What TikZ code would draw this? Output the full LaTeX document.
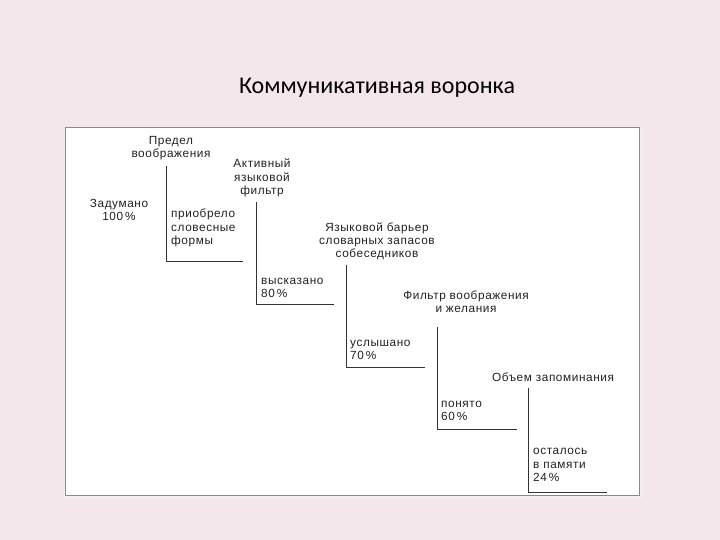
\documentclass[tikz,border=0pt]{standalone}
\usepackage{fontspec}
\setmainfont{Liberation Sans}
\newfontfamily\lblfont[LetterSpace=5]{Liberation Sans}
\newfontfamily\titlefont{Carlito}
\definecolor{bg}{HTML}{F3E7EB}
\definecolor{txt}{HTML}{222222}
\definecolor{ln}{HTML}{333333}
\definecolor{frame}{HTML}{8A8A8A}
\begin{document}
\begin{tikzpicture}[x=1pt,y=-1pt,
  lbl/.style={font=\lblfont\fontsize{11.8}{13.2}\selectfont, text=txt, inner sep=0pt, align=center},
  lbll/.style={lbl, align=left, anchor=west},
  bracket/.style={draw=ln, line width=1pt}]
\fill[bg] (0,0) rectangle (720,540);
\useasboundingbox (0,0) rectangle (720,540);
\fill[black!6] (64,129) rectangle (642,498);
\draw[frame, fill=white, line width=0.8pt] (65,127) rectangle (639,495);
\node[font=\titlefont\fontsize{24}{28}\selectfont, text=black, inner sep=0pt] (title) at (377,88) {Коммуникативная воронка};

\node[lbl] (t1) at (171,148) {Предел\\воображения};
\node[lbl] (zad) at (119,210) {Задумано\\100\,\%};
\node[lbll] (pri) at (171,228) {приобрело\\словесные\\формы};
\coordinate (a1) at (166,166); \coordinate (b1) at (166,261); \coordinate (c1) at (243,261);
\draw[bracket] (a1) -- (b1) -- (c1);

\node[lbl] (t2) at (262,178) {Активный\\языковой\\фильтр};
\node[lbll] (vys) at (261,288) {высказано\\80\,\%};
\coordinate (a2) at (256,202); \coordinate (b2) at (256,304); \coordinate (c2) at (334,304);
\draw[bracket] (a2) -- (b2) -- (c2);

\node[lbl] (t3) at (377,241) {Языковой барьер\\словарных запасов\\собеседников};
\node[lbll] (usl) at (350,350) {услышано\\70\,\%};
\coordinate (a3) at (346,265); \coordinate (b3) at (346,367); \coordinate (c3) at (425,367);
\draw[bracket] (a3) -- (b3) -- (c3);

\node[lbl] (t4) at (466,302) {Фильтр воображения\\и желания};
\node[lbll] (pon) at (441,411) {понято\\60\,\%};
\coordinate (a4) at (437,327); \coordinate (b4) at (437,429); \coordinate (c4) at (517,429);
\draw[bracket] (a4) -- (b4) -- (c4);

\node[lbl] (t5) at (553,377) {Объем запоминания};
\node[lbll] (ost) at (533,465) {осталось\\в памяти\\24\,\%};
\coordinate (a5) at (528,388); \coordinate (b5) at (528,492); \coordinate (c5) at (607,492);
\draw[bracket] (a5) -- (b5) -- (c5);
\end{tikzpicture}
\end{document}
